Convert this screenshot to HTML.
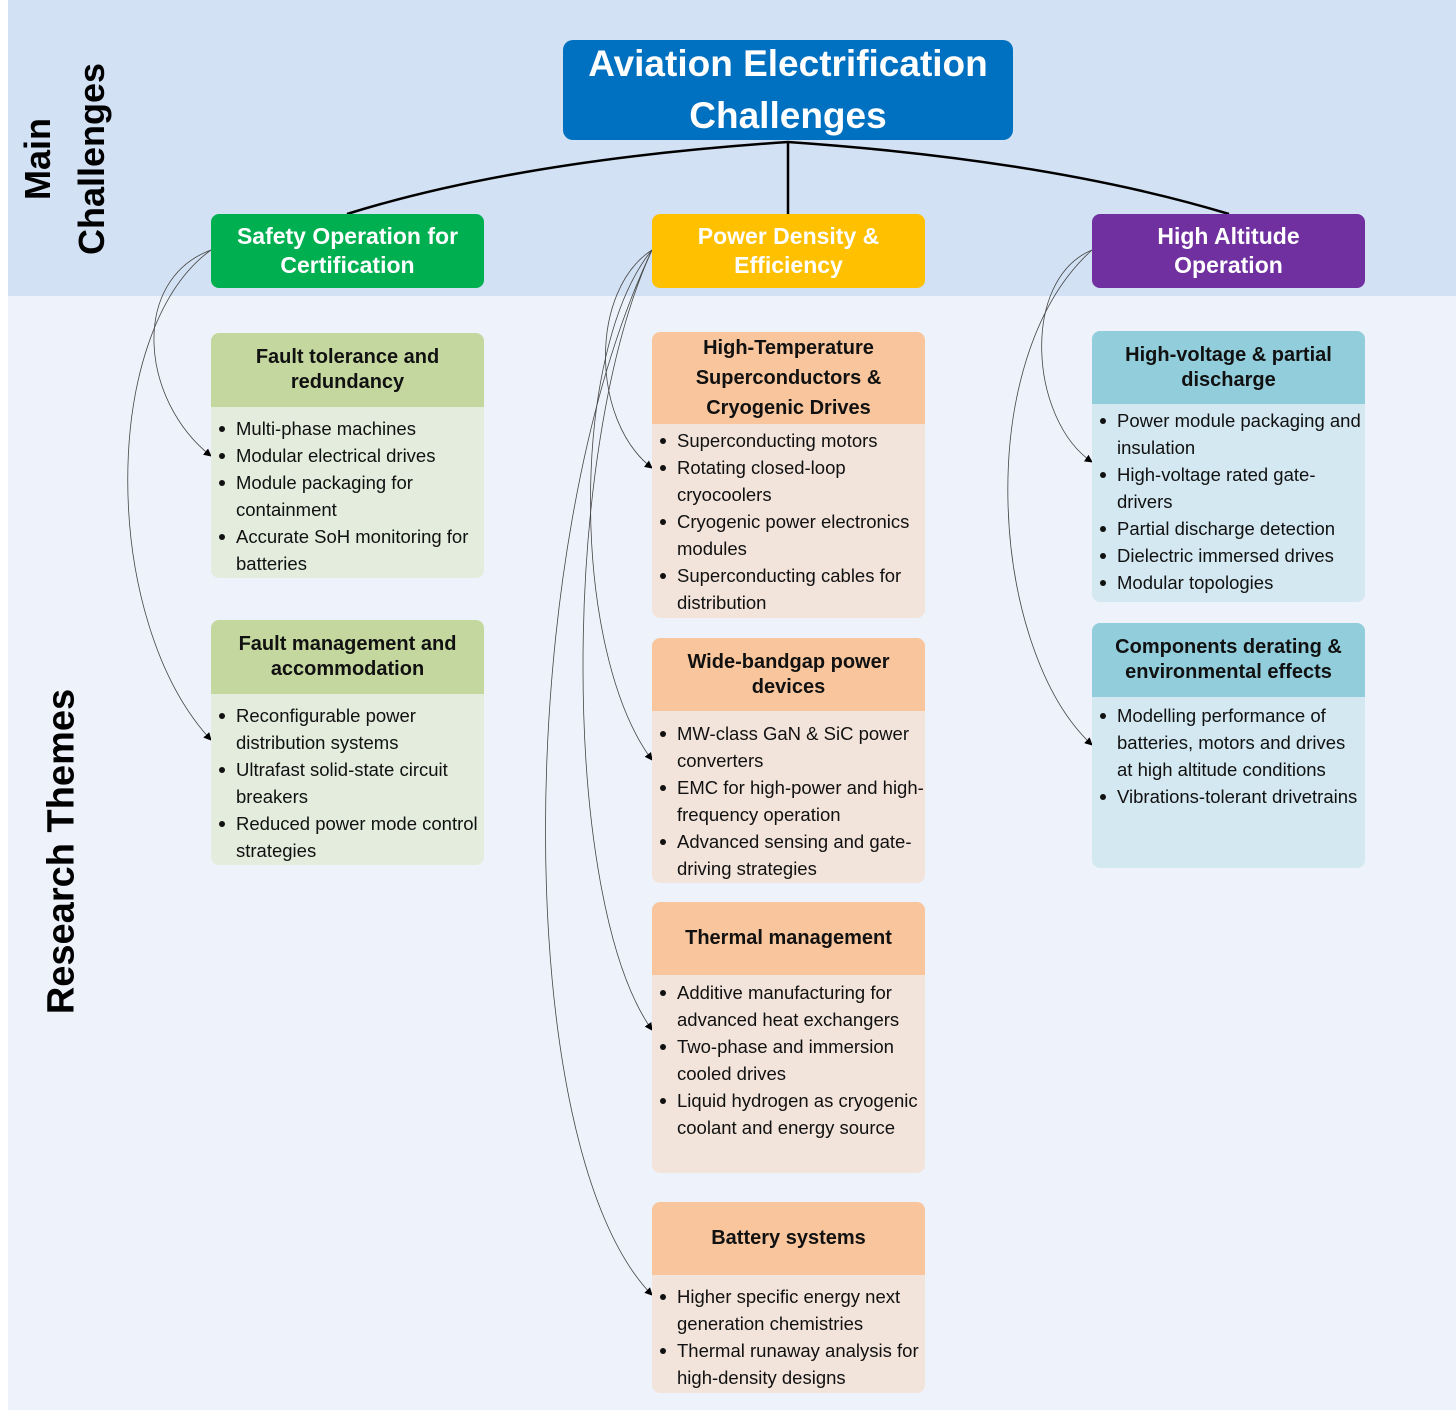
<!DOCTYPE html>
<html><head><meta charset="utf-8"><style>
body{margin:0;width:1456px;height:1413px;position:relative;background:#fff;font-family:"Liberation Sans",sans-serif;overflow:hidden}
.abs{position:absolute}
.band1{left:8px;top:0;width:1448px;height:296px;background:#d2e1f3}
.band2{left:8px;top:296px;width:1448px;height:1114px;background:#eef3fb}
.box{position:absolute;border-radius:8px;display:flex;align-items:center;justify-content:center;text-align:center;font-weight:bold;line-height:1.25}
.ch{color:#fff;font-size:23px;height:74px;top:214px;width:273px}
.hd{font-size:20px;color:#111;border-radius:8px 8px 0 0;width:273px}
.bd{position:absolute;width:273px;border-radius:0 0 8px 8px;font-size:18.5px;line-height:27px;color:#111}
.bd ul{margin:0;padding:0 0 0 25px;list-style:none}
.bd li{position:relative}
.bd li:before{content:"";position:absolute;left:-17px;top:11px;width:6px;height:6px;border-radius:50%;background:#111}
.vt{position:absolute;font-weight:bold;color:#000;transform:rotate(-90deg);transform-origin:center;text-align:center;white-space:nowrap}
</style></head><body>
<div class="abs band1"></div><div class="abs band2"></div>
<div class="vt" style="left:-85px;top:105px;width:300px;font-size:36px;line-height:54px">Main<br>Challenges</div>
<div class="vt" style="left:-138px;top:830px;width:400px;font-size:38px">Research Themes</div>

<svg class="abs" style="left:0;top:0" width="1456" height="1413">
<defs><marker id="a" markerWidth="8" markerHeight="8" refX="7" refY="4" orient="auto" markerUnits="userSpaceOnUse"><path d="M0,0 L8,4 L0,8z" fill="#000"/></marker></defs>
<g fill="none" stroke="#000" stroke-width="2.5">
<path d="M788,142 Q520,160 347,214"/><path d="M788,142 L788,214"/><path d="M788,142 Q1050,160 1229,214"/>
</g>
<g fill="none" stroke="#444" stroke-width="0.8" marker-end="url(#a)">
<path d="M211,250 C130,280 140,400 211,456"/>
<path d="M211,250 C100,330 100,620 211,740"/>
<path d="M652,250 C590,290 590,420 652,468"/>
<path d="M652,250 C570,350 570,650 652,760"/>
<path d="M652,250 C560,450 560,900 652,1030"/>
<path d="M652,250 C510,550 510,1150 652,1295"/>
<path d="M1092,250 C1020,280 1030,420 1092,462"/>
<path d="M1092,250 C970,360 990,650 1092,745"/>
</g>
</svg>

<div class="box" style="left:563px;top:40px;width:450px;height:100px;background:#0070c0;color:#fff;font-size:37px;line-height:52px;border-radius:10px">Aviation Electrification<br>Challenges</div>
<div class="box ch" style="left:211px;background:#00b050">Safety Operation for<br>Certification</div>
<div class="box ch" style="left:652px;background:#ffc000">Power Density &amp;<br>Efficiency</div>
<div class="box ch" style="left:1092px;background:#7030a0">High Altitude<br>Operation</div>

<!-- left -->
<div class="box hd" style="left:211px;top:333px;height:74px;background:#c4d79f">Fault tolerance and<br>redundancy</div>
<div class="bd" style="left:211px;top:414px;height:164px;background:#e3ecdd;top:407px;padding-top:8px;box-sizing:border-box;height:171px"><ul><li>Multi-phase machines</li><li>Modular electrical drives</li><li>Module packaging for containment</li><li>Accurate SoH monitoring for batteries</li></ul></div>
<div class="box hd" style="left:211px;top:620px;height:74px;background:#c4d79f">Fault management and<br>accommodation</div>
<div class="bd" style="left:211px;top:694px;height:171px;padding-top:8px;box-sizing:border-box;background:#e3ecdd"><ul><li>Reconfigurable power distribution systems</li><li>Ultrafast solid-state circuit breakers</li><li>Reduced power mode control strategies</li></ul></div>

<!-- middle -->
<div class="box hd" style="left:652px;top:332px;height:92px;background:#f8c59c;line-height:30px">High-Temperature<br>Superconductors &amp;<br>Cryogenic Drives</div>
<div class="bd" style="left:652px;top:424px;height:194px;padding-top:3px;box-sizing:border-box;background:#f2e4db"><ul><li>Superconducting motors</li><li>Rotating closed-loop cryocoolers</li><li>Cryogenic power electronics modules</li><li>Superconducting cables for distribution</li></ul></div>
<div class="box hd" style="left:652px;top:638px;height:73px;background:#f8c59c">Wide-bandgap power<br>devices</div>
<div class="bd" style="left:652px;top:711px;height:172px;padding-top:9px;box-sizing:border-box;background:#f2e4db"><ul><li>MW-class GaN &amp; SiC power converters</li><li>EMC for high-power and high-frequency operation</li><li>Advanced sensing and gate-driving strategies</li></ul></div>
<div class="box hd" style="left:652px;top:902px;height:73px;background:#f8c59c">Thermal management</div>
<div class="bd" style="left:652px;top:975px;height:198px;padding-top:4px;box-sizing:border-box;background:#f2e4db"><ul><li>Additive manufacturing for advanced heat exchangers</li><li>Two-phase and immersion cooled drives</li><li>Liquid hydrogen as cryogenic coolant and energy source</li></ul></div>
<div class="box hd" style="left:652px;top:1202px;height:73px;background:#f8c59c">Battery systems</div>
<div class="bd" style="left:652px;top:1275px;height:118px;padding-top:8px;box-sizing:border-box;background:#f2e4db"><ul><li>Higher specific energy next generation chemistries</li><li>Thermal runaway analysis for high-density designs</li></ul></div>

<!-- right -->
<div class="box hd" style="left:1092px;top:331px;height:73px;background:#92cddc">High-voltage &amp; partial<br>discharge</div>
<div class="bd" style="left:1092px;top:404px;height:198px;padding-top:3px;box-sizing:border-box;background:#d3e8f1"><ul><li>Power module packaging and insulation</li><li>High-voltage rated gate-drivers</li><li>Partial discharge detection</li><li>Dielectric immersed drives</li><li>Modular topologies</li></ul></div>
<div class="box hd" style="left:1092px;top:623px;height:74px;background:#92cddc">Components derating &amp;<br>environmental effects</div>
<div class="bd" style="left:1092px;top:697px;height:171px;padding-top:5px;box-sizing:border-box;background:#d3e8f1"><ul><li>Modelling performance of batteries, motors and drives at high altitude conditions</li><li>Vibrations-tolerant drivetrains</li></ul></div>
</body></html>
